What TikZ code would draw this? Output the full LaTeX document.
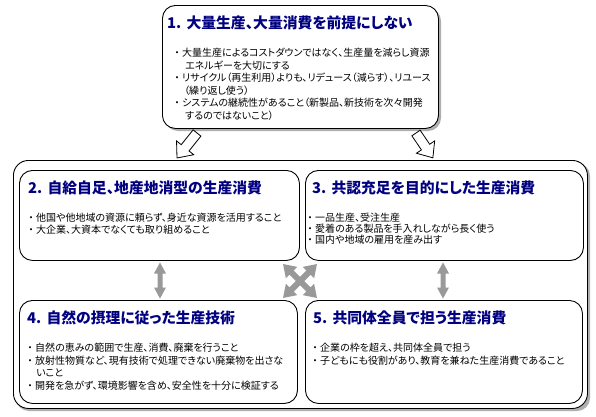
\documentclass[tikz,border=0pt]{standalone}
\usepackage{fontspec}
\newfontfamily\jp[RawFeature=+palt]{Noto Sans CJK JP}
\definecolor{navyblue}{RGB}{0,0,128}
\definecolor{arrgray}{RGB}{153,153,153}
\definecolor{shadowgray}{RGB}{175,175,175}
\newcommand\grayDbl[7]{\fill[grayarr, shift={(#1,#2)}, rotate=#3] (-#4,0) -- ({-#4+#5},#6) -- ({-#4+#5},#7) -- ({#4-#5},#7) -- ({#4-#5},#6) -- (#4,0) -- ({#4-#5},-#6) -- ({#4-#5},-#7) -- ({-#4+#5},-#7) -- ({-#4+#5},-#6) -- cycle;}
\newcommand\hollowArr[4]{\draw[hollowarr, shift={(#1,#2)}, rotate=#3] (0,-5) -- ({#4-13},-5) -- ({#4-13},-11) -- (#4,0) -- ({#4-13},11) -- ({#4-13},5) -- (0,5) -- cycle;}
\newcommand\bul[1]{\makebox[10pt][c]{・}#1}
\begin{document}
\begin{tikzpicture}[x=1pt,y=-1pt,
  box/.style={draw=black, line width=0.9pt, fill=white, rounded corners=13pt, anchor=north west, inner sep=0pt},
  shadowbox/.style={fill=shadowgray, draw=none, rounded corners=13pt},
  ttl/.style={font=\jp\bfseries\fontsize{14.8}{16}\selectfont, text=navyblue, anchor=base west, inner sep=0pt},
  bodytxt/.style={font=\jp\fontsize{10}{11}\selectfont, anchor=base west, inner sep=0pt},
  grayarr/.style={fill=arrgray, draw=none},
  hollowarr/.style={fill=white, draw=black, line width=0.8pt, line join=miter}
]
\useasboundingbox (0,0) rectangle (596,416);
\fill[white] (0,0) rectangle (596,416);

% shadows
\fill[shadowbox] (165,8) rectangle (441,131);
\fill[shadowbox] (16,163) rectangle (590,411);

% boxes
\node[box, minimum width=276pt, minimum height=123pt] (b1) at (162,5) {};
\node[box, rounded corners=15pt, minimum width=574pt, minimum height=248pt] (outer) at (13,160) {};
\node[box, minimum width=280pt, minimum height=90pt] (b2) at (19,170) {};
\node[box, minimum width=278pt, minimum height=90pt] (b3) at (305,170) {};
\node[box, minimum width=278pt, minimum height=103pt] (b4) at (19,300) {};
\node[box, minimum width=277pt, minimum height=103pt] (b5) at (305,300) {};

% hollow arrows from box 1
\hollowArr{197}{133}{231.3}{32}
\hollowArr{416}{133}{-55.8}{30}

% gray arrows
\grayDbl{160}{280.5}{90}{18}{11}{6}{2.5}
\grayDbl{443}{280.5}{90}{18}{11}{6}{2.5}
\grayDbl{300}{281}{45}{24}{12}{8}{3}
\grayDbl{300}{281}{-45}{24}{12}{8}{3}

% box 1 text
\node[ttl] (t1) at (167,28.6) {1.\hspace{0.35em}大量生産、大量消費を前提にしない};
\node[bodytxt] (l1a) at (172,56.8) {\bul{大量生産によるコストダウンではなく、生産量を減らし資源}};
\node[bodytxt] (l1b) at (185,69.3) {エネルギーを大切にする};
\node[bodytxt] (l1c) at (172,81.8) {\bul{リサイクル（再生利用）よりも、リデュース（減らす）、リユース}};
\node[bodytxt] (l1d) at (184,94.3) {（繰り返し使う）};
\node[bodytxt] (l1e) at (172,106.8) {\bul{システムの継続性があること（新製品、新技術を次々開発}};
\node[bodytxt] (l1f) at (185,119.3) {するのではないこと）};

% box 2 text
\node[ttl] (t2) at (28,193.6) {2.\hspace{0.35em}自給自足、地産地消型の生産消費};
\node[bodytxt] (l2a) at (26,221.8) {\bul{他国や他地域の資源に頼らず、身近な資源を活用すること}};
\node[bodytxt] (l2b) at (26,233.8) {\bul{大企業、大資本でなくても取り組めること}};

% box 3 text
\node[ttl] (t3) at (312,193.6) {3.\hspace{0.35em}共認充足を目的にした生産消費};
\node[bodytxt] (l3a) at (305,221.8) {\bul{一品生産、受注生産}};
\node[bodytxt] (l3b) at (305,232.8) {\bul{愛着のある製品を手入れしながら長く使う}};
\node[bodytxt] (l3c) at (305,243.8) {\bul{国内や地域の雇用を産み出す}};

% box 4 text
\node[ttl] (t4) at (27,323.6) {4.\hspace{0.35em}自然の摂理に従った生産技術};
\node[bodytxt] (l4a) at (25,351.8) {\bul{自然の恵みの範囲で生産、消費、廃棄を行うこと}};
\node[bodytxt] (l4b) at (25,364.2) {\bul{放射性物質など、現有技術で処理できない廃棄物を出さな}};
\node[bodytxt] (l4c) at (36,376.8) {いこと};
\node[bodytxt] (l4d) at (25,389.8) {\bul{開発を急がず、環境影響を含め、安全性を十分に検証する}};

% box 5 text
\node[ttl] (t5) at (313,323.6) {5.\hspace{0.35em}共同体全員で担う生産消費};
\node[bodytxt] (l5a) at (310,351.8) {\bul{企業の枠を超え、共同体全員で担う}};
\node[bodytxt] (l5b) at (310,364.2) {\bul{子どもにも役割があり、教育を兼ねた生産消費であること}};
\end{tikzpicture}
\end{document}
